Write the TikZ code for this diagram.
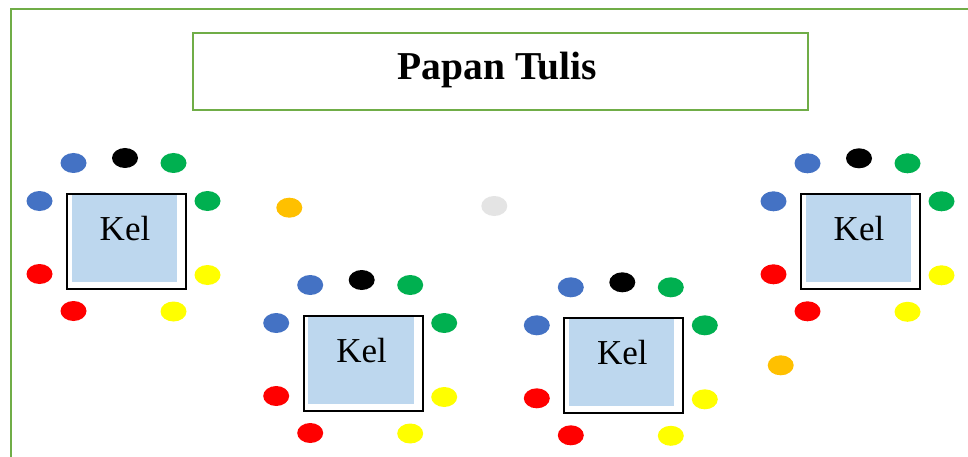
\documentclass[tikz,border=0pt]{standalone}
\usepackage{fontspec}
\setmainfont{Liberation Serif}
\usetikzlibrary{shapes.geometric}

\definecolor{framegreen}{HTML}{70AD47}
\definecolor{seatblue}{HTML}{4472C4}
\definecolor{seatgreen}{HTML}{00B050}
\definecolor{seatred}{HTML}{FF0000}
\definecolor{seatyellow}{HTML}{FFFF00}
\definecolor{seatorange}{HTML}{FFC000}
\definecolor{seatgray}{HTML}{E4E4E4}
\definecolor{tablefill}{HTML}{BDD7EE}

\tikzset{
  seat/.style={ellipse, fill=#1, draw=none, minimum width=26pt, minimum height=20pt, inner sep=0pt},
  tableframe/.style={draw=black, line width=2pt},
  tablelabel/.style={anchor=base, inner sep=0pt, font=\fontsize{35}{37}\selectfont},
}

% One group: a table with nine seats around it; #1 name, (#2,#3) top-left corner of the table
\newcommand\seatgroup[3]{%
  \fill[tablefill] ({#2+5.5},{#3+2}) rectangle ({#2+111},{#3+89});
  \node[tableframe, rectangle, minimum width=119pt, minimum height=95pt, anchor=north west, inner sep=0pt] (#1) at (#2,#3) {};
  \node[tablelabel] (#1-label) at ({#2+59},{#3+47.5}) {Kel};
  \node[seat=seatblue]   (#1-bt) at ({#2+7.5},{#3-30}) {};
  \node[seat=black]      (#1-k)  at ({#2+59},{#3-35}) {};
  \node[seat=seatgreen]  (#1-gt) at ({#2+107.5},{#3-30}) {};
  \node[seat=seatblue]   (#1-bl) at ({#2-26.5},{#3+8}) {};
  \node[seat=seatgreen]  (#1-gr) at ({#2+141.5},{#3+8}) {};
  \node[seat=seatred]    (#1-rl) at ({#2-26.5},{#3+81}) {};
  \node[seat=seatyellow] (#1-yr) at ({#2+141.5},{#3+82}) {};
  \node[seat=seatred]    (#1-rb) at ({#2+7.5},{#3+118}) {};
  \node[seat=seatyellow] (#1-yb) at ({#2+107.5},{#3+118.5}) {};
}

\begin{document}
\begin{tikzpicture}[x=1pt, y=-1pt]
  \useasboundingbox (0,0) rectangle (968,457);
  \clip (0,0) rectangle (968,457);
  \fill[white] (0,0) rectangle (968,457);

  % classroom outline
  \draw[framegreen, line width=2.8pt] (11,480) -- (11,9) -- (990,9);

  % blackboard
  \node[draw=framegreen, line width=2pt, rectangle, minimum width=615pt, minimum height=76.5pt, anchor=north west, inner sep=0pt] (board) at (192,32.5) {};
  \node[anchor=base, inner sep=0pt, font=\fontsize{39.5}{41}\selectfont\bfseries] (boardtext) at (497.5,80) {Papan Tulis};

  % group tables
  \seatgroup{g1}{66}{193}
  \seatgroup{g2}{302.7}{315}
  \seatgroup{g3}{563.3}{317.3}
  \seatgroup{g4}{800}{193.3}

  % loose seats
  \node[seat=seatorange] (o1) at (289.3,207.7) {};
  \node[seat=seatgray]   (s1) at (494.3,206) {};
  \node[seat=seatorange] (o2) at (780.7,365.3) {};
\end{tikzpicture}
\end{document}
